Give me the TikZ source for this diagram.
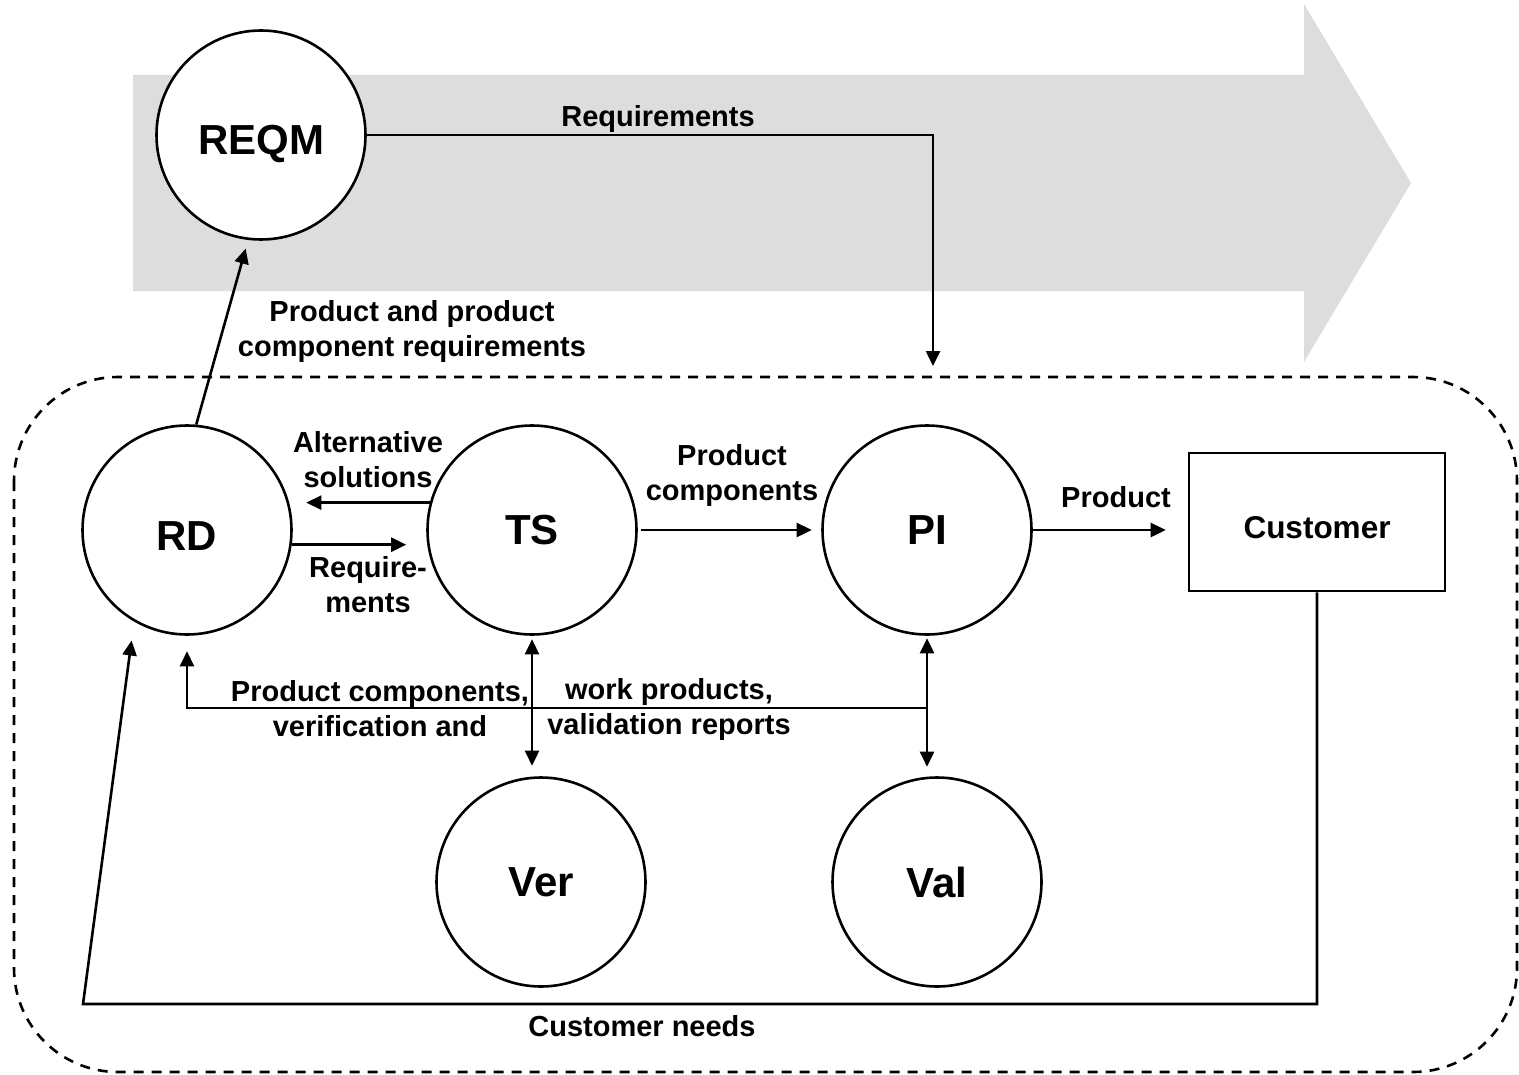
\documentclass[tikz,border=0pt]{standalone}
\usepackage{fontspec}
\setmainfont{Liberation Sans}
\usetikzlibrary{arrows.meta}
\definecolor{bandgrey}{RGB}{221,221,221}
\begin{document}
\begin{tikzpicture}[x=0.5pt,y=-0.5pt,
  every node/.style={font=\bfseries},
  proc/.style={circle,draw,line width=1.3pt,fill=white,minimum size=104.5pt,
    inner sep=0pt,font=\bfseries\fontsize{21}{25}\selectfont},
  lowname/.style={text height=20pt,text depth=0pt},
  actor/.style={draw,line width=1.3pt,fill=white,minimum width=128pt,minimum height=69pt,
    inner sep=0pt,text height=16.3pt,text depth=0pt,font=\bfseries\fontsize{15.75}{19}\selectfont},
  flowlabel/.style={align=center,inner sep=0pt,font=\bfseries\fontsize{14.5}{17.5}\selectfont},
  tip/.tip={Triangle[length=7.5pt,width=7pt]},
  flow/.style={line width=1.3pt,-tip},
  twoway/.style={line width=1.3pt,tip-tip},
  scopebox/.style={line width=1.3pt,dash pattern=on 5pt off 4pt,rounded corners=52pt}
]
\useasboundingbox (0,0) rectangle (1519,1075);

% broad process arrow in the background
\fill[bandgrey] (133,75) -- (1304,75) -- (1304,4) -- (1411,183)
  -- (1304,362) -- (1304,291) -- (133,291) -- cycle;

% dashed boundary of the engineering processes
\draw[scopebox] (14,377) rectangle (1517,1072);

% process areas
\node[proc,lowname] (REQM) at (261,135) {REQM};
\node[proc,lowname] (RD)   at (187,530) {RD};
\node[proc]         (TS)   at (532,530) {TS};
\node[proc]         (PI)   at (927,530) {PI};
\node[proc]         (Ver)  at (541,882) {Ver};
\node[proc]         (Val)  at (937,882) {Val};
\node[actor]        (Cust) at (1317,522) {Customer};

% requirements management feeding integration
\coordinate (reqturn) at (933,135);
\coordinate (reqend)  at (933,366);
\draw[flow] (REQM.east) -- (reqturn) -- (reqend);
\node[flowlabel] (lreq) at (658,119) {Requirements};

% requirements development to requirements management
\draw[flow,shorten >=4.5pt] (RD.85) -- (REQM.263);
\node[flowlabel] (lpcr) at (412,332) {Product and product\\component requirements};

% RD <-> TS
\draw[flow,shorten >=6.75pt] (TS.165) -- (TS.165 -| RD.east);
\node[flowlabel] (lalt) at (368,460) {Alternative\\solutions};
\draw[flow,shorten >=10pt] (RD.-8) -- (RD.-8 -| TS.west);
\node[flowlabel] (lrts) at (368,585) {Require-\\ments};

% TS -> PI -> Customer
\draw[flow,shorten <=1.75pt,shorten >=4.75pt] (TS.east) -- (PI.west);
\node[flowlabel] (lpc) at (732,475) {Product\\components};
\draw[flow,shorten >=11pt] (PI.east) -- (PI.east -| Cust.west);
\node[flowlabel] (lprod) at (1116,497) {Product};

% verification and validation
\draw[twoway,shorten <=1.75pt,shorten >=5.25pt] (TS.south) -- (TS.south |- Ver.north);
\draw[twoway,shorten <=1.25pt,shorten >=4.75pt] (PI.south) -- (PI.south |- Val.north);

% feedback of work products and reports to RD
\coordinate (fbrow) at (0,708);
\draw[flow,shorten >=7.75pt] (PI.south |- fbrow) -- (RD.south |- fbrow) -- (RD.south);
\node[flowlabel] (lwp1) at (380,709) {Product components,\\verification and};
\node[flowlabel] (lwp2) at (669,709) {work products,\\validation reports};

% customer needs back to RD
\coordinate (needsrow)    at (0,1004);
\coordinate (needscorner) at (83,1004);
\draw[flow,shorten >=9.5pt] (Cust.south) -- (Cust.south |- needsrow) -- (needscorner) -- (RD.240);
\node[flowlabel] (lneeds) at (642,1026) {Customer needs};
\end{tikzpicture}
\end{document}
